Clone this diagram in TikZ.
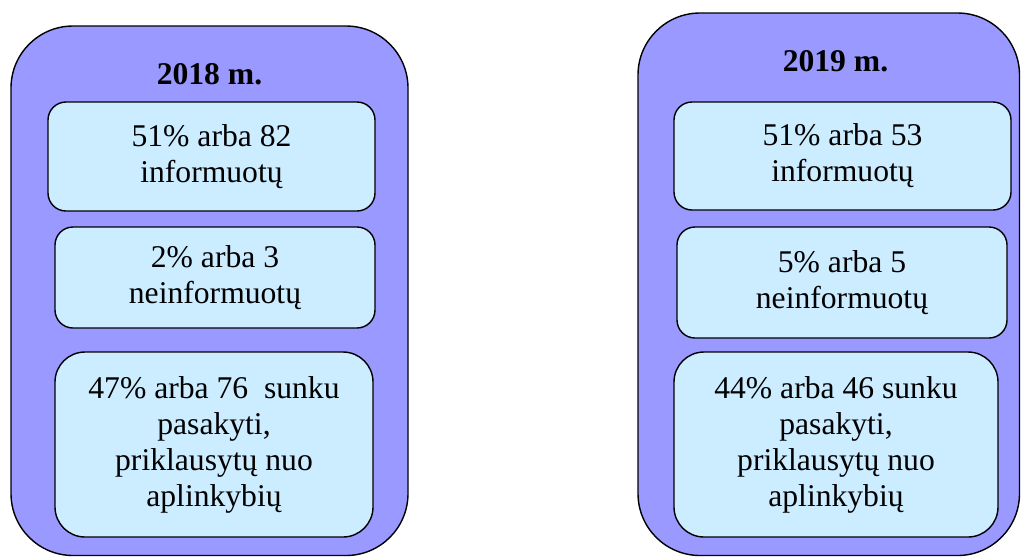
\documentclass[tikz,border=0pt]{standalone}
\usepackage{fontspec}
\setmainfont{Liberation Serif}
\definecolor{yearfill}{HTML}{9999FF}
\definecolor{itemfill}{HTML}{CCECFF}
\begin{document}
\begin{tikzpicture}[x=0.02cm, y=-0.02cm,
    yearbox/.style 2 args={draw, line width=0.8pt, fill=yearfill, rounded corners=1.24cm,
      minimum width=#1*0.02cm, minimum height=#2*0.02cm, inner sep=0pt},
    itembox/.style n args={3}{draw, line width=0.8pt, fill=itemfill, rounded corners=#3*0.02cm,
      minimum width=#1*0.02cm, minimum height=#2*0.02cm, inner sep=0pt, align=center,
      font=\fontsize{18}{20.5}\selectfont},
    yeartitle/.style={anchor=base, inner sep=0pt, font=\fontsize{18}{20.5}\selectfont\bfseries}]
      \useasboundingbox (0,0) rectangle (1021,556);
      % 2018
      \node[yearbox={397}{529.5}] (Y18) at (209.5,290.75) {};
      \node[yeartitle] (T18) at (209.5,84) {2018 m.};
      \node[itembox={327}{109}{18}] (I18) at (211.5,156.5) {51\% arba 82\\informuotų};
      \node[itembox={320}{101}{18}] (N18) at (215,277.5) {2\% arba 3\\neinformuotų};
      \node[itembox={318}{185}{30}] (S18) at (214,444.5) {47\% arba 76\ \ sunku\\pasakyti,\\priklausytų nuo\\aplinkybių};
      % 2019
      \node[yearbox={381.5}{542.5}] (Y19) at (828.75,284.25) {};
      \node[yeartitle] (T19) at (835.5,71) {2019 m.};
      \node[itembox={337}{108}{18}] (I19) at (842.5,156) {51\% arba 53\\informuotų};
      \node[itembox={330}{111}{18}] (N19) at (842,282.5) {5\% arba 5\\neinformuotų};
      \node[itembox={324}{185}{30}] (S19) at (836,444.5) {44\% arba 46 sunku\\pasakyti,\\priklausytų nuo\\aplinkybių};
    \end{tikzpicture}
\end{document}
